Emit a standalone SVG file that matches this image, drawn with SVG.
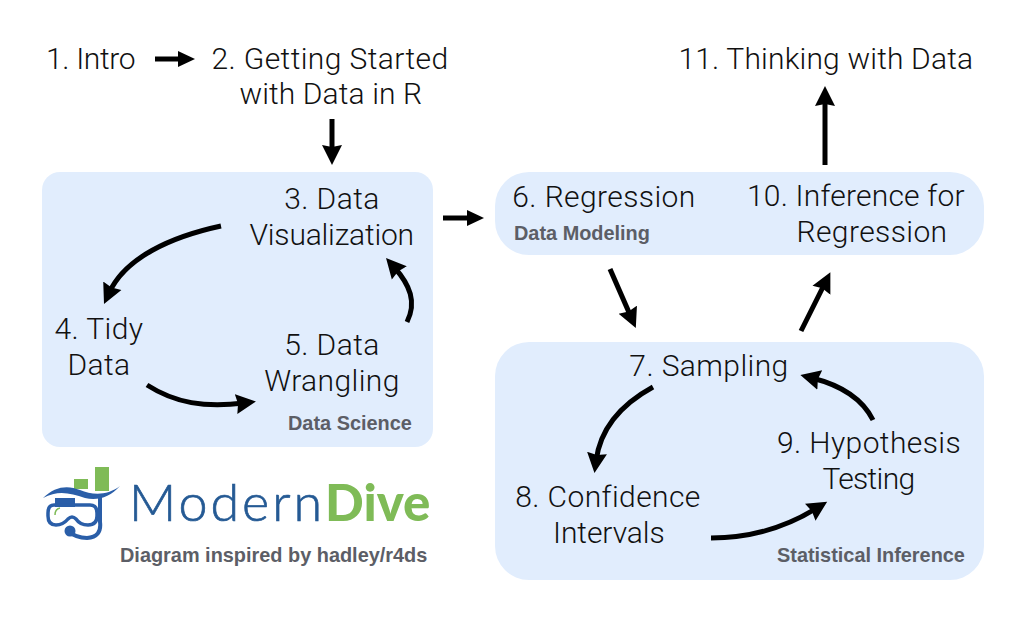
<svg xmlns="http://www.w3.org/2000/svg" width="1021" height="621" viewBox="0 0 1021 621">
<style>
.t{font-family:Roboto,"Liberation Sans",sans-serif;font-weight:300;font-size:30px;letter-spacing:.4px;fill:#111;text-anchor:middle}
.l{font-family:"Liberation Sans",Arial,sans-serif;font-weight:700;font-size:19.9px;fill:#5c5e66}
.box{fill:#e1edfd}
.c{fill:none;stroke:#000;stroke-width:5}
.big{marker-end:url(#big)}
.small{marker-end:url(#small)}
</style>
<defs>
<marker id="big" markerUnits="userSpaceOnUse" markerWidth="24" markerHeight="24" refX="8" refY="10.5" orient="auto"><path d="M0 0.5L20 10.5L0 20.5L2 10.5Z" fill="#000"/></marker>
<marker id="small" markerUnits="userSpaceOnUse" markerWidth="20" markerHeight="20" refX="6" refY="8" orient="auto"><path d="M0 0L17 8L0 16Z" fill="#000"/></marker>
</defs>
<rect width="1021" height="621" fill="#fff"/>
<g id="group-data-science"><rect class="box" x="42" y="172" width="391" height="275" rx="18"/><text class="l" x="288" y="430">Data Science</text></g>
<g id="group-data-modeling"><rect class="box" x="495" y="172" width="489" height="83" rx="34"/><text class="l" x="514" y="240">Data Modeling</text></g>
<g id="group-statistical-inference"><rect class="box" x="495" y="342" width="489" height="238" rx="34"/><text class="l" x="777" y="562">Statistical Inference</text></g>
<g id="connectors">
<path class="c small" d="M155 59H184"/>
<path class="c big" d="M332 119V153"/>
<path class="c small" d="M443 218H473"/>
<path class="c big" d="M221 226C170 237 125 258 109 293"/>
<path class="c big" d="M147 385C175 403 205 408 244 403"/>
<path class="c big" d="M407 322C417 302 410 285 394 267"/>
<path class="c big" d="M610 269L631 317"/>
<path class="c big" d="M653 387C620 405 600 430 596 461"/>
<path class="c big" d="M711 538C750 538 785 528 817 508"/>
<path class="c big" d="M873 420C862 398 840 385 812 378"/>
<path class="c big" d="M801 331L825 283"/>
<path class="c big" d="M825 165V98"/>
</g>
<g id="node-1"><text class="t" x="91" y="69" textLength="90">1. Intro</text></g>
<g id="node-2"><text class="t" x="330" y="69">2. Getting Started</text><text class="t" x="331" y="104" textLength="183">with Data in R</text></g>
<g id="node-3"><text class="t" x="332" y="209">3. Data</text><text class="t" x="332" y="245" textLength="165">Visualization</text></g>
<g id="node-4"><text class="t" x="99" y="339">4. Tidy</text><text class="t" x="99" y="375">Data</text></g>
<g id="node-5"><text class="t" x="332" y="355">5. Data</text><text class="t" x="332" y="391">Wrangling</text></g>
<g id="node-6"><text class="t" x="604" y="207">6. Regression</text></g>
<g id="node-7"><text class="t" x="709" y="376">7. Sampling</text></g>
<g id="node-8"><text class="t" x="608" y="507">8. Confidence</text><text class="t" x="609" y="543" textLength="112">Intervals</text></g>
<g id="node-9"><text class="t" x="869" y="453">9. Hypothesis</text><text class="t" x="869" y="489" textLength="93">Testing</text></g>
<g id="node-10"><text class="t" x="856" y="206" textLength="218">10. Inference for</text><text class="t" x="872" y="242">Regression</text></g>
<g id="node-11"><text class="t" x="826" y="69" textLength="295">11. Thinking with Data</text></g>
<g id="logo">
<rect x="74" y="479" width="14" height="10" fill="#7fbb57"/>
<rect x="95" y="467" width="14" height="24" fill="#7fbb57"/>
<path d="M43 498C55 486 68 485 80 490C92 495 107 496 120 486C110 497 98 501 85 498C70 493 58 490 43 498Z" fill="#2a5ea8"/>
<rect x="55" y="498" width="20" height="9" fill="#2a5ea8"/>
<path d="M54 505H90Q97 505 97 513V516Q97 525 88 525Q80 525 76 519Q72 515 68 519Q63 525 56 525Q48 525 48 516V513Q48 505 54 505Z" fill="none" stroke="#2a5ea8" stroke-width="3.5"/>
<path d="M55 515Q55 509 60 508" fill="none" stroke="#7fbb57" stroke-width="1.5"/>
<path d="M100 496V522Q102 537 87 538Q76 538 68 531" fill="none" stroke="#2a5ea8" stroke-width="4"/>
<circle cx="70" cy="531" r="5.5" fill="#2a5ea8"/>
<text x="129" y="521" font-family="Lato,sans-serif" font-weight="300" font-size="52" letter-spacing="3" fill="#255a94" stroke="#255a94" stroke-width=".7">Modern</text>
<text x="325" y="521" font-family="Lato,sans-serif" font-weight="900" font-size="51" fill="#7fbb57">Dive</text>
</g>
<g id="credit"><text class="l" x="120" y="562">Diagram inspired by hadley/r4ds</text></g>
</svg>
